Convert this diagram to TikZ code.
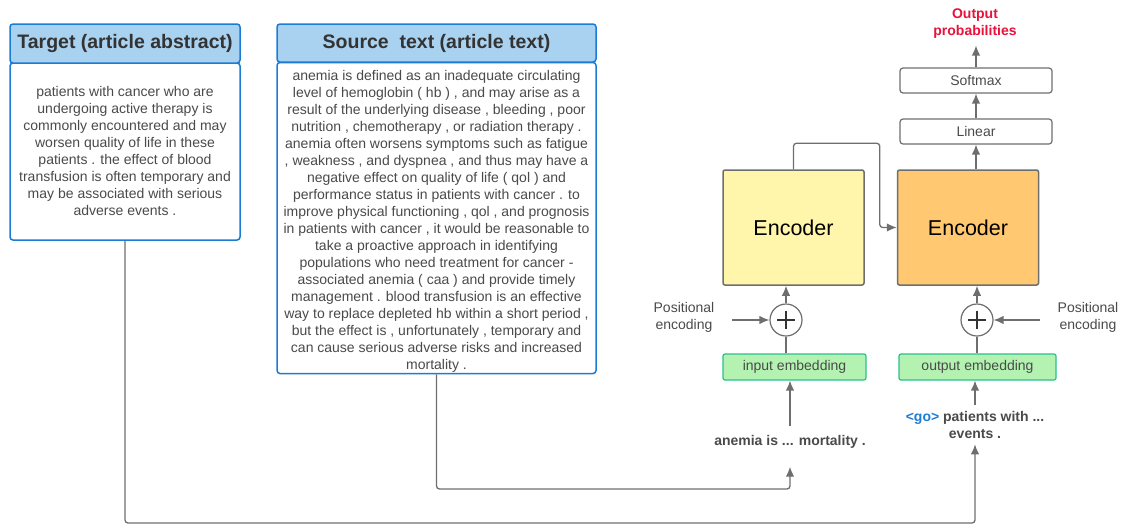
\documentclass[tikz,border=0pt]{standalone}
\usepackage{fontspec}
\setmainfont{Liberation Sans}
\usepackage{tikz}
\usetikzlibrary{arrows.meta,positioning,calc}
\definecolor{boxblue}{HTML}{1C7CD5}
\definecolor{headblue}{HTML}{A9D1F0}
\definecolor{linegray}{HTML}{6E6E6E}
\definecolor{txtgray}{HTML}{4A4A4A}
\definecolor{headtxt}{HTML}{333333}
\definecolor{encyellow}{HTML}{FFF5AB}
\definecolor{encorange}{HTML}{FFC871}
\definecolor{embgreen}{HTML}{B3F2B0}
\definecolor{embedge}{HTML}{2CBF8E}
\definecolor{probred}{HTML}{E8123C}
\newcommand{\boxlw}{1.5pt}
\newcommand{\arrlw}{1.3pt}
\newcommand{\txtsize}{\fontsize{14}{17}\selectfont}

\begin{document}
\begin{tikzpicture}[x=1pt,y=-1pt]
    \useasboundingbox (0,0) rectangle (1126,525);
    %\draw[help lines,step=50] (0,0) grid (1126,525);
    \tikzset{
        head/.style = {draw=boxblue, fill=headblue, line width=\boxlw, rounded corners=3pt, inner sep=0pt, font=\fontsize{19.5}{22}\selectfont\bfseries, text=headtxt},
        body/.style = {draw=boxblue, fill=white, line width=\boxlw, rounded corners=3pt, inner sep=0pt},
        enc/.style = {draw=linegray, line width=\boxlw, rounded corners=2pt, minimum width=141pt, minimum height=115pt, font=\fontsize{21.5}{24}\selectfont, text=black},
        layer/.style = {draw=linegray, line width=1.2pt, rounded corners=3pt, minimum width=152pt, minimum height=25pt, inner sep=0pt, font=\txtsize, text=txtgray},
        emb/.style = {draw=embedge, fill=embgreen, line width=1.2pt, rounded corners=2pt, minimum height=26pt, inner sep=0pt, font=\txtsize, text=txtgray},
        plus/.style = {circle, draw=linegray, fill=white, line width=1.2pt, minimum size=32pt, inner sep=0pt},
        lbl/.style = {align=center, inner sep=0pt, font=\txtsize, text=txtgray},
        tok/.style = {align=center, inner sep=6pt, font=\txtsize\bfseries, text=txtgray},
        flow/.style = {draw=linegray, line width=\arrlw, -{Latex[length=10pt,width=8.5pt]}},
        wire/.style = {draw=linegray, line width=\arrlw},
        cross/.style = {draw=black!80, line width=1.4pt},
    }

    % text boxes
    \node[body, minimum width=230pt, minimum height=177pt] (tgtbody) at (125,151.5) {};
    \node[lbl] (tgttxt) at (125,151) {patients with cancer who are\\
        undergoing active therapy is\\
        commonly encountered and may\\
        worsen quality of life in these\\
        patients . the effect of blood\\
        transfusion is often temporary and\\
        may be associated with serious\\
        adverse events .};
    \node[head, minimum width=230pt, minimum height=39pt] (tgthead) at (125,43.5) {Target (article abstract)};

    \node[body, minimum width=319pt, minimum height=311pt] (srcbody) at (436.5,218) {};
    \node[lbl] (srctxt) at (436.5,221.5) {anemia is defined as an inadequate circulating\\
        level of hemoglobin ( hb ) , and may arise as a\\
        result of the underlying disease , bleeding , poor\\
        nutrition , chemotherapy , or radiation therapy .\\
        anemia often worsens symptoms such as fatigue\\
        , weakness , and dyspnea , and thus may have a\\
        negative effect on quality of life ( qol ) and\\
        performance status in patients with cancer . to\\
        improve physical functioning , qol , and prognosis\\
        in patients with cancer , it would be reasonable to\\
        take a proactive approach in identifying\\
        populations who need treatment for cancer -\\
        associated anemia ( caa ) and provide timely\\
        management . blood transfusion is an effective\\
        way to replace depleted hb within a short period ,\\
        but the effect is , unfortunately , temporary and\\
        can cause serious adverse risks and increased\\
        mortality .};
    \node[head, minimum width=319pt, minimum height=38pt] (srchead) at (436.5,43) {Source~ text (article text)};

    % model
    \node[enc, fill=encyellow] (enc1) at (793.5,227.5) {Encoder};
    \node[enc, fill=encorange] (enc2) at (968,227.5) {Encoder};
    \node[layer] (lin) at (976,131.5) {Linear};
    \node[layer] (soft) at (976,80.5) {Softmax};
    \node[tok, text=probred, inner sep=3pt] (outp) at (975,23.5) {Output\\probabilities};

    \node[plus] (pl1) at (786,320) {};
    \node[plus] (pl2) at (977,320) {};
    \foreach \p in {pl1,pl2}{
        \draw[cross] ($(\p.center)+(-9,0)$) -- ($(\p.center)+(9,0)$);
        \draw[cross] ($(\p.center)+(0,-9)$) -- ($(\p.center)+(0,9)$);
    }
    \node[emb, minimum width=143pt] (inemb) at (794.5,367) {input embedding};
    \node[emb, minimum width=157pt] (outemb) at (977.5,367) {output embedding};
    \node[lbl] (posl) at (684,317.5) {Positional\\encoding};
    \node[lbl] (posr) at (1088,317.5) {Positional\\encoding};
    \coordinate (plin) at (732,320);
    \coordinate (prin) at (1040,320);

    \node[tok] (srctok) at (790,442) {anemia is ... mortality .};
    \node[tok] (gotxt) at (975,424.5) {\textcolor{boxblue}{<go>} patients with ...\\events .};

    % connectors
    \draw[flow] (lin.south |- enc2.north) -- (lin.south);
    \draw[flow] (lin.north) -- (soft.south);
    \draw[flow, shorten >=4pt] (soft.north) -- (soft.north |- outp.south);
    \draw[flow, rounded corners=3pt] (enc1.north) -- ++(0,-26) -| ($(enc2.west)+(-17,0)$) -- (enc2.west);

    \draw[flow] (pl1.north) -- (pl1.north |- enc1.south);
    \draw[wire] (pl1.south |- inemb.north) -- (pl1.south);
    \draw[flow] (pl2.north) -- (pl2.north |- enc2.south);
    \draw[wire] (pl2.south |- outemb.north) -- (pl2.south);
    \draw[flow] (plin) -- (pl1.west);
    \draw[flow] (prin) -- (pl2.east);

    \draw[flow, shorten <=3pt] (srctok.north) -- (srctok.north |- inemb.south);
    \draw[flow] (gotxt.north) -- (gotxt.north |- outemb.south);

    \coordinate (srclow) at (436.5,489);
    \coordinate (tgtlow) at (125,523);
    \draw[flow, rounded corners=3pt, shorten >=12pt] (srcbody.south) -- (srclow) -| (srctok.south);
    \draw[flow, rounded corners=3pt] (tgtbody.south) -- (tgtlow) -| (gotxt.south);
\end{tikzpicture}
\end{document}
